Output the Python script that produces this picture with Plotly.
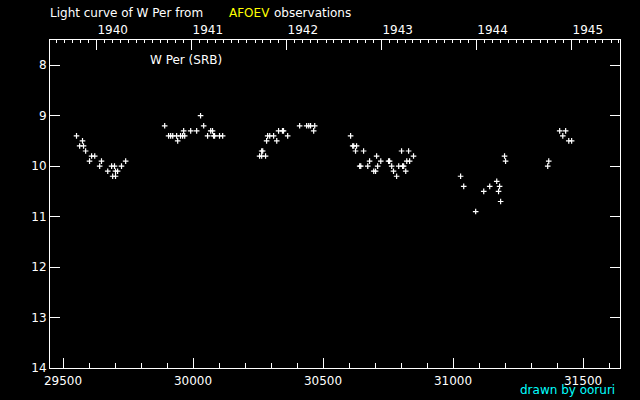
import datetime
import plotly.graph_objects as go

# Julian Date - 2400000
jd = [29552, 29575, 29564, 29579, 29587, 29610, 29622, 29602, 29648, 29641,
      29687, 29698, 29741, 29725, 29672, 29702, 29710, 29691, 29702,
      29891, 29906, 29914, 29922, 29937, 29952, 29960, 29968, 29941, 29964,
      29991, 30014, 30029, 30041, 30068, 30075, 30056, 30079, 30083, 30102, 30114,
      30256, 30264, 30279, 30264, 30268, 30283, 30322, 30287, 30295, 30310,
      30364, 30329, 30344, 30348, 30410, 30437, 30445, 30452, 30468, 30464,
      30606, 30614, 30618, 30629, 30625, 30656, 30802, 30829, 30848, 30706,
      30679, 30722, 30752, 30756, 30822, 30833, 30641, 30645, 30672, 30710,
      30764, 30791, 30806, 30810, 30695, 30702, 30771, 30818, 30783,
      31029, 31041, 31087, 31118, 31141, 31168, 31175, 31179, 31183, 31198,
      31202, 31364, 31368, 31410, 31433, 31422, 31445, 31456]
mag = [9.4, 9.5, 9.6, 9.6, 9.7, 9.8, 9.8, 9.9, 9.9, 10.0,
       10.0, 10.0, 9.9, 10.0, 10.1, 10.1, 10.1, 10.2, 10.2,
       9.2, 9.4, 9.4, 9.4, 9.4, 9.4, 9.4, 9.4, 9.5, 9.3,
       9.3, 9.3, 9.0, 9.2, 9.3, 9.3, 9.4, 9.4, 9.4, 9.4, 9.4,
       9.8, 9.8, 9.8, 9.7, 9.7, 9.5, 9.5, 9.4, 9.4, 9.4,
       9.4, 9.3, 9.3, 9.3, 9.2, 9.2, 9.2, 9.2, 9.2, 9.3,
       9.4, 9.6, 9.6, 9.6, 9.7, 9.7, 9.7, 9.7, 9.8, 9.8,
       9.9, 9.9, 9.9, 9.9, 9.9, 9.9, 10.0, 10.0, 10.0, 10.0,
       10.0, 10.0, 10.0, 10.0, 10.1, 10.1, 10.1, 10.1, 10.2,
       10.2, 10.4, 10.9, 10.5, 10.4, 10.3, 10.5, 10.4, 10.7, 9.8,
       9.9, 10.0, 9.9, 9.3, 9.3, 9.4, 9.5, 9.5]

years = [1940, 1941, 1942, 1943, 1944, 1945]
mag_ticks = [8, 9, 10, 11, 12, 13, 14]
jd_ticks = [29500, 30000, 30500, 31000, 31500]


def to_jd(d):
    # JD-2400000 of 0h UT on date d
    base = datetime.date(1940, 1, 1)
    return 29629.5 + (d - base).days


year_jd = [to_jd(datetime.date(y, 1, 1)) for y in years]
month_jd = [to_jd(datetime.date(y, m, 1)) for y in range(1939, 1947) for m in range(1, 13)]

XR = [29450, 31642]
FONT = dict(family="DejaVu Sans", size=12, color="white")

fig = go.Figure()
fig.add_trace(go.Scatter(
    x=jd, y=mag, mode="markers",
    marker=dict(symbol="cross-thin", size=4, line=dict(color="white", width=1.2), color="white"),
    showlegend=False, hoverinfo="skip"))
fig.add_trace(go.Scatter(x=[None], y=[None], xaxis="x2", showlegend=False, hoverinfo="skip"))

fig.update_layout(
    width=640, height=400,
    margin=dict(l=50, r=20, t=40, b=30),
    paper_bgcolor="black", plot_bgcolor="black",
    font=FONT,
    xaxis=dict(range=XR, showgrid=False, zeroline=False, showline=True, linecolor="white",
               linewidth=1, mirror=False, ticks="inside", ticklen=10, tickcolor="white",
               tickmode="array", tickvals=jd_ticks, ticktext=[str(v) for v in jd_ticks],
               ticklabelstandoff=2,
               minor=dict(dtick=100, tick0=29500, ticks="inside", ticklen=5, tickcolor="white"),
               tickfont=FONT),
    xaxis2=dict(range=XR, overlaying="x", side="top", anchor="y", showgrid=False,
                zeroline=False, showline=True, linecolor="white", linewidth=1,
                ticks="inside", ticklen=10, tickcolor="white",
                tickmode="array", tickvals=year_jd, ticktext=[str(y) for y in years],
                ticklabelshift=16,
                minor=dict(tickmode="array", tickvals=month_jd, ticks="inside", ticklen=3,
                           tickcolor="white"),
                tickfont=FONT),
    yaxis=dict(range=[14, 7.5], showgrid=False, zeroline=False, showline=True,
               linecolor="white", linewidth=1, mirror="ticks", ticks="inside", ticklen=10,
               tickcolor="white", tickmode="array", tickvals=mag_ticks,
               ticktext=[str(v) for v in mag_ticks], tickfont=FONT),
)

def px2paper(px, py):
    return (px - 50) / 570.0, (370 - py) / 330.0

anns = [
    ("Light curve of W Per from", 48, 13, "white"),
    ("AFOEV", 227, 13, "#ffff00"),
    ("observations", 272, 13, "white"),
    ("W Per (SRB)", 148, 60.5, "white"),
    ("drawn by ooruri", 518, 392, "#00ffff"),
]
for txt, px, py, col in anns:
    xp, yp = px2paper(px, py)
    fig.add_annotation(text=txt, x=xp, y=yp, xref="paper", yref="paper",
                       xanchor="left", yanchor="middle", showarrow=False,
                       font=dict(family="DejaVu Sans", size=12, color=col))

fig.write_html("out.html", config={"displayModeBar": False},
               post_script="document.body.style.margin='0';")
